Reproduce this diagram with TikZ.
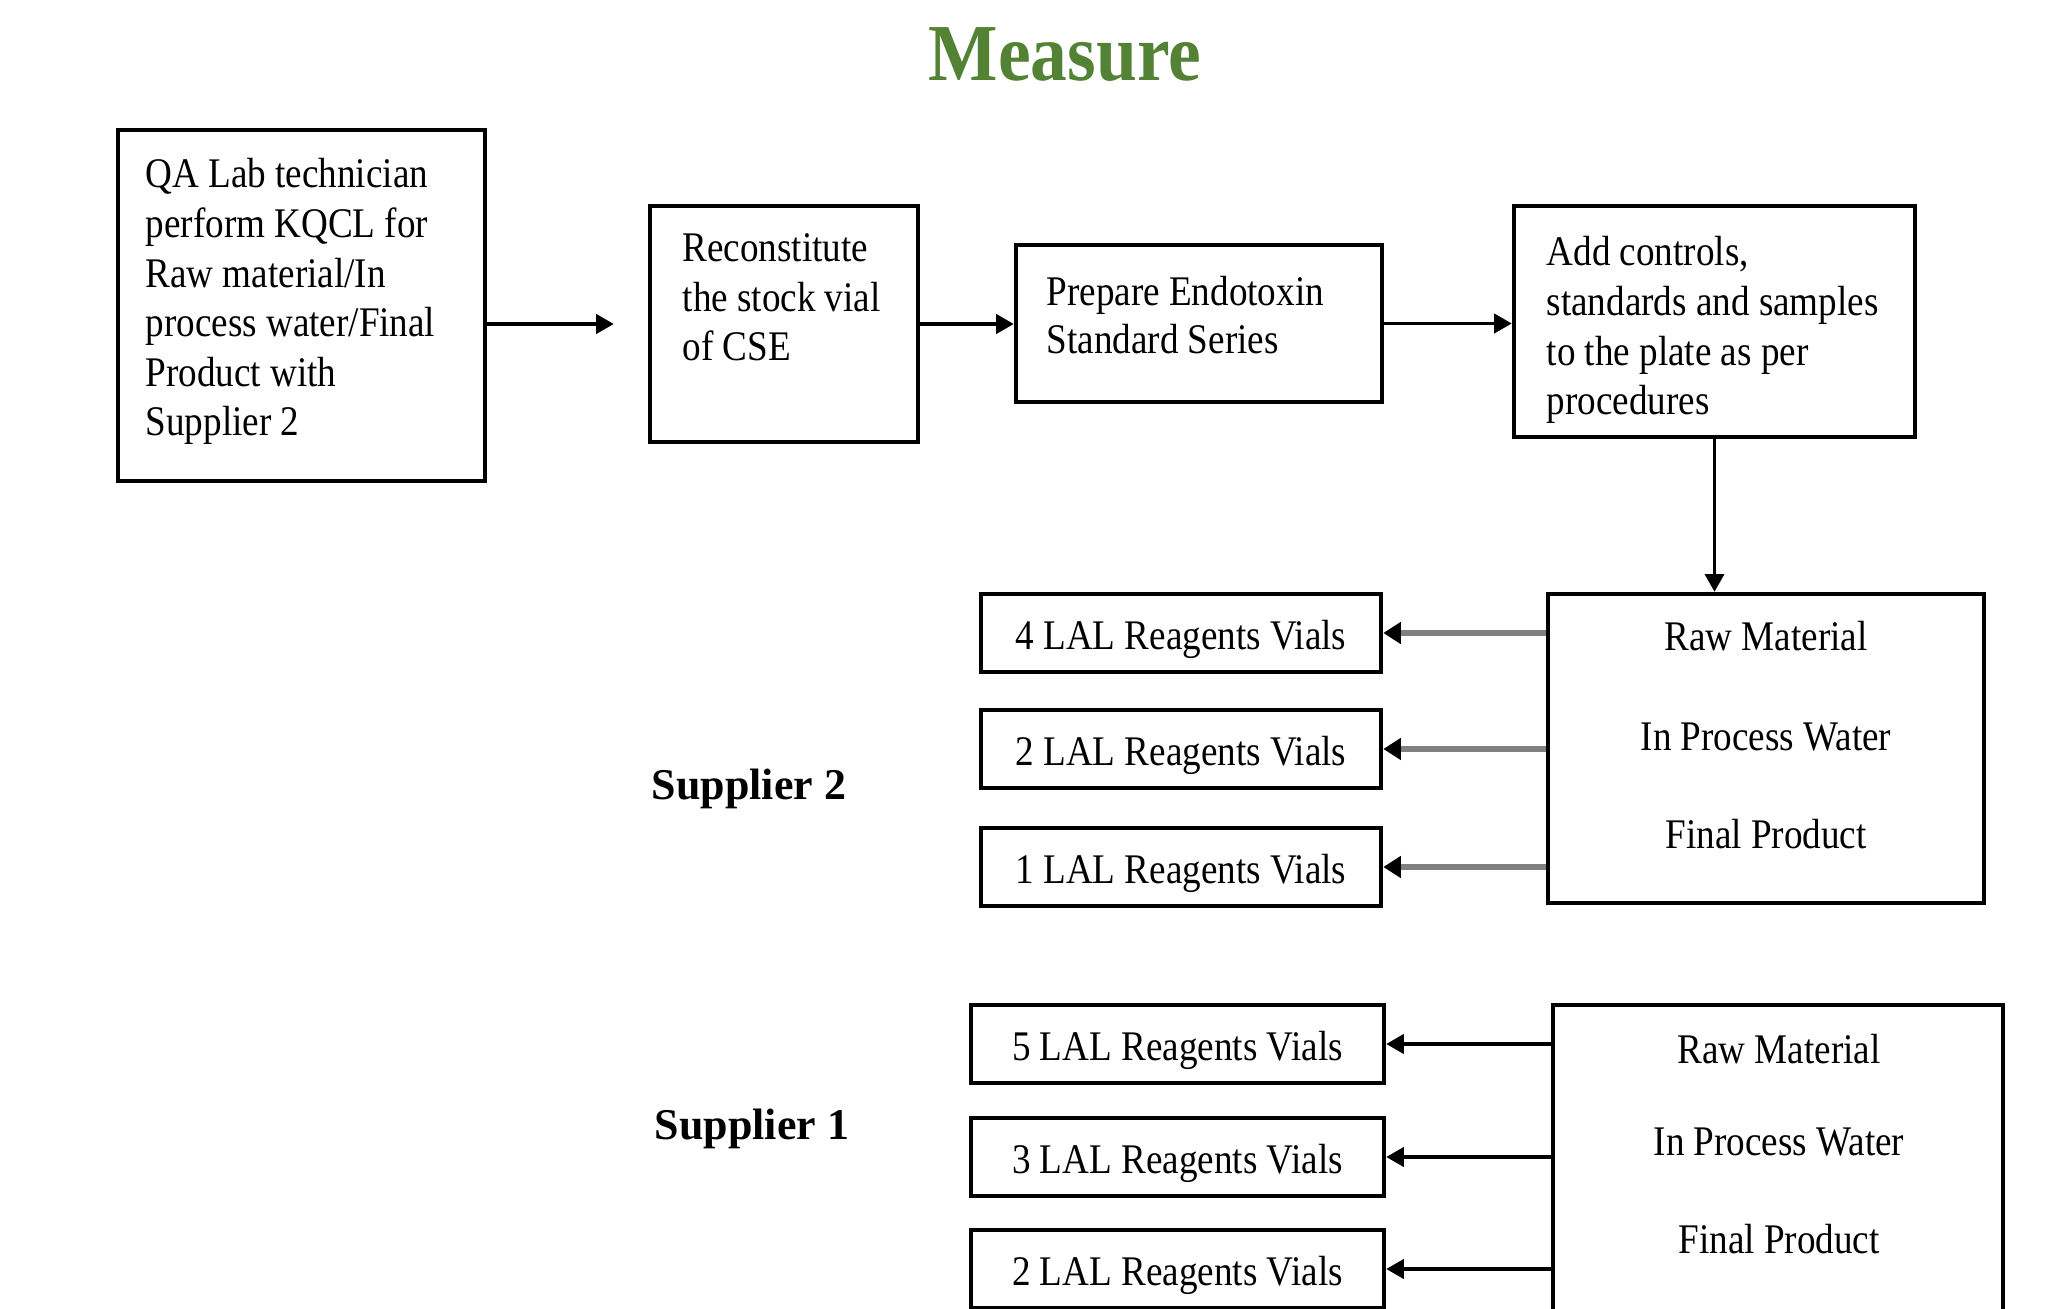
\documentclass[tikz,border=0pt]{standalone}
\usepackage{fontspec}
\setmainfont{Liberation Serif}
\newfontfamily\narrowserif[FakeStretch=0.88]{Liberation Serif}
\newfontfamily\titleserif[FakeStretch=0.91]{Liberation Serif}
\usetikzlibrary{arrows.meta}
\definecolor{titlegreen}{RGB}{84,130,53}
\definecolor{linkgray}{RGB}{128,128,128}

\begin{document}
\begin{tikzpicture}[>={Triangle[length=5pt,width=5.5pt]}, line join=miter,
    blk/.style={draw, line width=1.3pt, inner sep=0pt},
    txt/.style={font=\narrowserif\fontsize{12}{14.1}\selectfont, align=left, inner sep=0pt, anchor=north west},
    srctext/.style={font=\narrowserif\fontsize{12}{14}\selectfont, inner sep=0pt},
    vial/.style={blk, minimum height=0.78cm, font=\narrowserif\fontsize{12}{14}\selectfont, text height=2.2ex, text depth=0.2ex},
    supp/.style={font=\bfseries\fontsize{12.5}{15}\selectfont, anchor=base},
    graylink/.style={line width=1.8pt, linkgray, -{Triangle[color=black, length=5pt, width=6pt]}},
    blacklink/.style={line width=0.9pt, ->},
]
    \useasboundingbox (0,0) rectangle (20.56,-13.09);
    \clip (0,0) rectangle (20.56,-13.09);

    \node[font=\titleserif\bfseries\fontsize{23}{27}\selectfont, text=titlegreen, anchor=base] (title) at (10.65,-0.81) {Measure};

    % upper row
    \node[blk, minimum width=3.67cm, minimum height=3.51cm] (qa) at (3.015,-3.055) {};
    \node[txt] (qatext) at (1.45,-1.58) {QA Lab technician\\perform KQCL for\\Raw material/In\\process water/Final\\Product with\\Supplier 2};
    \node[blk, minimum width=2.68cm, minimum height=2.36cm] (recon) at (7.84,-3.24) {};
    \node[txt] (recontext) at (6.82,-2.33) {Reconstitute\\the stock vial\\of CSE};
    \node[blk, minimum width=3.66cm, minimum height=1.57cm] (prep) at (11.99,-3.235) {};
    \node[txt, font=\narrowserif\fontsize{12}{13.4}\selectfont] (preptext) at (10.46,-2.76) {Prepare Endotoxin\\Standard Series};
    \node[blk, minimum width=4.01cm, minimum height=2.31cm] (add) at (17.145,-3.215) {};
    \node[txt] (addtext) at (15.46,-2.36) {Add controls,\\standards and samples\\to the plate as per\\procedures};

    \draw[blacklink, shorten >=0.34cm] (qa.east |- recon.west) -- (recon.west);
    \draw[blacklink] (recon.east) -- (recon.east -| prep.west);
    \draw[blacklink] (prep.east) -- (prep.east -| add.west);

    % supplier 2
    \node[blk, minimum width=4.36cm, minimum height=3.09cm] (s2src) at (17.66,-7.485) {};
    \draw[line width=0.6pt, ->] (add.south) -- (add.south |- s2src.north);
    \foreach \y/\id/\text in {-6.36/s2raw/Raw Material, -7.37/s2ipw/In Process Water, -8.34/s2fin/Final Product}
        \node[srctext] (\id) at (17.66,\y) {\text};
    \foreach \y/\id/\n in {-6.33/s2a/4, -7.49/s2b/2, -8.67/s2c/1} {
        \node[vial, minimum width=4.0cm] (\id) at (11.81,\y) {\n\ LAL Reagents Vials};
        \draw[graylink] (s2src.west |- \id.east) -- (\id.east);
    }
    \node[supp] (sup2) at (7.49,-8.00) {Supplier 2};

    % supplier 1
    \node[blk, minimum width=4.5cm, minimum height=3.6cm] (s1src) at (17.78,-11.85) {};
    \foreach \y/\id/\text in {-10.49/s1raw/Raw Material, -11.42/s1ipw/In Process Water, -12.39/s1fin/Final Product}
        \node[srctext] (\id) at (17.79,\y) {\text};
    \foreach \y/\id/\n in {-10.44/s1a/5, -11.57/s1b/3, -12.69/s1c/2} {
        \node[vial, minimum width=4.13cm] (\id) at (11.775,\y) {\n\ LAL Reagents Vials};
        \draw[blacklink] (s1src.west |- \id.east) -- (\id.east);
    }
    \node[supp] (sup1) at (7.52,-11.39) {Supplier 1};
\end{tikzpicture}
\end{document}
